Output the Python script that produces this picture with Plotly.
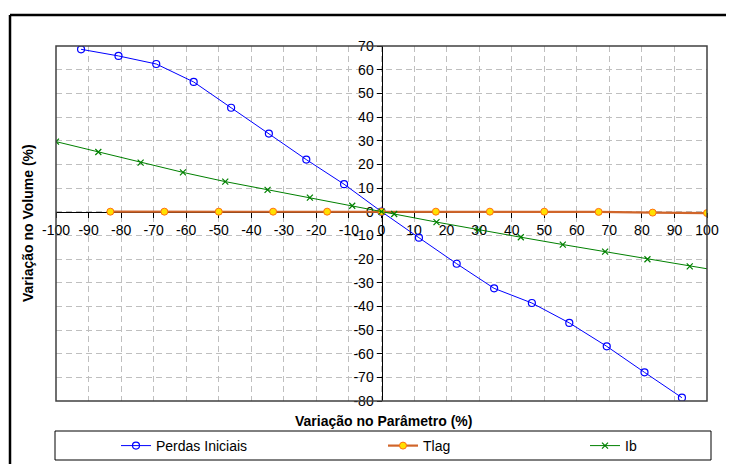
import plotly.graph_objects as go

# data
perdas_x = [-92.3, -80.8, -69.2, -57.7, -46.2, -34.6, -23.1, -11.5, 0,
            11.5, 23.1, 34.6, 46.2, 57.7, 69.2, 80.8, 92.3]
perdas_y = [68.6, 65.8, 62.4, 54.8, 43.9, 33.0, 22.0, 11.6, 0,
            -11.0, -22.0, -32.4, -38.6, -47.0, -56.9, -67.9, -78.6]

tlag_x = [-83.3, -66.7, -50.0, -33.3, -16.7, 0, 16.7, 33.3, 50.0, 66.7, 83.3, 100.0]
tlag_y = [0, 0, 0, 0, 0, 0, 0, 0, 0, -0.1, -0.4, -0.6]

ib_x = [-100, -87.0, -74.0, -61.0, -48.0, -35.0, -22.0, -9.0, 0,
        3.9, 16.9, 29.8, 42.8, 55.7, 68.7, 81.7, 94.7, 107.7]
ib_y = [29.6, 25.2, 20.7, 16.6, 12.7, 9.2, 5.9, 2.5, 0,
        -1.0, -4.4, -7.7, -10.8, -13.9, -16.9, -20.1, -23.1, -25.9]

x_ticks = list(range(-100, 101, 10))
y_ticks = list(range(-80, 71, 10))

FONT = "Arial, Liberation Sans, sans-serif"

# plot area in screen pixels (734x464 window); the page body adds an 8px offset
W, H = 734, 464
OFF = 8
L, R, T, B = 56, 707, 46, 401


def px(x):
    return (x - L) / (R - L)


def py(y):
    return (B - y) / (B - T)


fig = go.Figure()

fig.add_trace(go.Scatter(
    x=perdas_x, y=perdas_y, mode="lines+markers", name="Perdas Iniciais",
    line=dict(color="#0000FF", width=1),
    marker=dict(symbol="circle-open", size=7, color="#0000FF", line=dict(width=1.2)),
    legend="legend",
))
fig.add_trace(go.Scatter(
    x=tlag_x, y=tlag_y, mode="lines+markers", name="Tlag",
    line=dict(color="#D0652A", width=2.2),
    marker=dict(symbol="circle", size=7, color="#FFE000", line=dict(color="#FF7010", width=1)),
    legend="legend2",
))
fig.add_trace(go.Scatter(
    x=ib_x, y=ib_y, mode="lines+markers", name="Ib",
    line=dict(color="#008000", width=1),
    marker=dict(symbol="x-thin-open", size=6, color="#008000", line=dict(color="#008000", width=1.2)),
    legend="legend3",
))

grid = dict(showgrid=True, gridcolor="#BFBFBF", gridwidth=1, griddash="6px,4px")

fig.update_xaxes(
    range=[-100, 100], tickvals=x_ticks, ticktext=[str(v) for v in x_ticks],
    anchor="free", position=py(211.7), showline=True, linecolor="#000000", linewidth=1,
    ticks="outside", ticklen=5, tickcolor="#000000", zeroline=False, layer="below traces",
    tickfont=dict(family=FONT, size=14, color="#000000"), **grid,
)
fig.update_yaxes(
    range=[-80, 70], tickvals=y_ticks, ticktext=[str(v) for v in y_ticks],
    anchor="free", position=0.5, showline=True, linecolor="#000000", linewidth=1,
    ticks="outside", ticklen=5, tickcolor="#000000", zeroline=False, layer="below traces",
    tickfont=dict(family=FONT, size=14, color="#000000"), **grid,
)

legend_common = dict(
    orientation="h", yanchor="middle", y=py(446), xanchor="left",
    font=dict(family=FONT, size=14, color="#000000"),
    bgcolor="rgba(0,0,0,0)", borderwidth=0,
)

fig.update_layout(
    width=W, height=H,
    margin=dict(l=L - OFF, r=W - (R - OFF), t=T - OFF, b=H - (B - OFF), autoexpand=False),
    paper_bgcolor="#FFFFFF", plot_bgcolor="#FFFFFF",
    font=dict(family=FONT, color="#000000"),
    showlegend=True,
    legend=dict(x=px(116), **legend_common),
    legend2=dict(x=px(383), **legend_common),
    legend3=dict(x=px(585), **legend_common),
    shapes=[
        # plot area border
        dict(type="rect", xref="x domain", yref="y domain", x0=0, x1=1, y0=0, y1=1,
             line=dict(color="#404040", width=1.5), layer="above"),
        # legend box
        dict(type="rect", xref="paper", yref="paper",
             x0=px(55), x1=px(711), y0=py(460), y1=py(431),
             line=dict(color="#000000", width=1)),
        # outer chart frame (partly cut off)
        dict(type="line", xref="paper", yref="paper",
             x0=px(10), x1=px(760), y0=py(15), y1=py(15),
             line=dict(color="#000000", width=2.5)),
        dict(type="line", xref="paper", yref="paper",
             x0=px(10), x1=px(10), y0=py(15), y1=py(480),
             line=dict(color="#000000", width=2.5)),
    ],
    annotations=[
        dict(text="<b>Variação no Parâmetro (%)</b>", xref="paper", yref="paper",
             x=px(383), y=py(421), xanchor="center", yanchor="middle", showarrow=False,
             font=dict(family=FONT, size=14, color="#000000")),
        dict(text="<b>Variação no Volume (%)</b>", xref="paper", yref="paper",
             x=px(28), y=py(223), xanchor="center", yanchor="middle", showarrow=False,
             textangle=-90, font=dict(family=FONT, size=14, color="#000000")),
    ],
)

fig.write_html("out.html")
